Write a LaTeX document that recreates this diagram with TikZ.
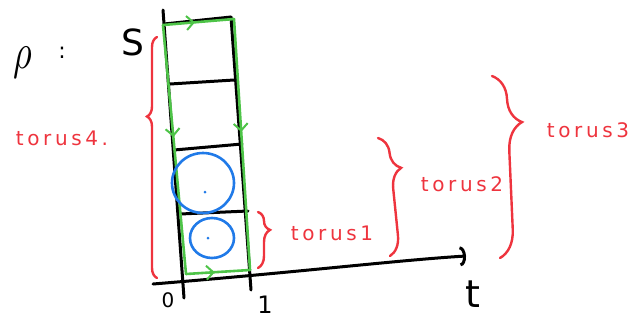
\documentclass[tikz,border=0pt]{standalone}
\usepackage{amsmath, amssymb}
\usepackage{fontspec}
\newfontfamily\manofont[LetterSpace=18]{DejaVu Sans}
\newfontfamily\trattofont{DejaVu Sans}
\usepackage{tikz}
\usetikzlibrary{calc, arrows.meta, decorations.pathreplacing, decorations.markings}

\definecolor{verdino}{RGB}{78,196,72}
\definecolor{rosso}{RGB}{238,52,62}
\definecolor{azzurro}{RGB}{32,122,232}

\tikzset{
  nero/.style={line width=3pt, line cap=round},
  lato/.style={draw=verdino, line width=2.6pt, line cap=round,
    postaction={decorate, decoration={markings,
      mark=at position 0.45 with {\arrow{Straight Barb[length=7pt,width=14pt,line width=2pt]}}}}},
  graffa/.style n args={2}{draw=rosso, line width=2.4pt, line cap=round,
    decorate, decoration={brace, amplitude=#1, aspect=#2}},
  etichetta/.style={text=rosso, inner sep=0pt, font=\manofont\fontsize{20}{20}\selectfont},
  segno/.style={inner sep=0pt, font=\trattofont\fontsize{#1}{#1}\selectfont},
}

\begin{document}
\begin{tikzpicture}[x=1pt, y=-1pt]
  \useasboundingbox (0,0) rectangle (634,322);

  % striscia
  \coordinate (L0) at (163,10);
  \coordinate (L1) at (184,298);
  \coordinate (R0) at (231,17);
  \coordinate (R1) at (251,290);
  \draw[nero] (L0) -- (L1);
  \draw[nero] (R0) -- (R1);
  \draw[nero] (164,24) -- (231,17);
  \draw[nero] (170,84) -- (234,80);
  \draw[nero] (174,150) -- (242,144);
  \draw[nero] (180,214) -- (248,211);

  % asse t
  \coordinate (A0) at (153,284);
  \coordinate (A1) at (466,256);
  \draw[nero, -{Arc Barb[length=6pt,width=20pt]}] (A0) .. controls (300,272) and (400,260) .. (A1);

  % bordo verde
  \coordinate (GTL) at (163,25);
  \coordinate (GTR) at (234,19);
  \coordinate (GBR) at (250,270);
  \coordinate (GBL) at (186,274);
  \draw[lato] (GTL) -- (GTR);
  \draw[lato] (GTR) -- (GBR);
  \draw[lato] (GTL) -- (GBL);
  \draw[lato] (GBL) -- (GBR);

  % cerchi
  \draw[azzurro, line width=2.6pt] (203,183) ellipse (31 and 30);
  \fill[azzurro] (205,192) circle (1.5);
  \draw[azzurro, line width=2.6pt] (212,238) ellipse (22 and 20);
  \fill[azzurro] (208,238) circle (1.5);

  % scritte nere
  \node[inner sep=0pt] (rho) at (23,63) {\scalebox{3.6}[5]{$\rho$}};
  \node[segno=22] (due) at (62,53) {:};
  \node[segno=36] (S) at (133,42) {S};
  \node[segno=20] (zero) at (168,300) {0};
  \node[segno=24] (uno) at (265,305) {1};
  \node[segno=38] (t) at (473,294) {t};

  % graffe
  \draw[graffa={10}{0.67}] (157,278) -- (157,37);
  \draw[graffa={12}{0.32}] (258,212) -- (258,268);
  \draw[graffa={20}{0.27}] (378,138) -- (390,256);
  \draw[graffa={28}{0.26}] (492,76) -- (500,258);

  % etichette
  \node[etichetta] (t4) at (62,138) {torus4.};
  \node[etichetta] (t1) at (332,233) {torus1};
  \node[etichetta] (t2) at (462,184) {torus2};
  \node[etichetta] (t3) at (588,130) {torus3};
\end{tikzpicture}
\end{document}
